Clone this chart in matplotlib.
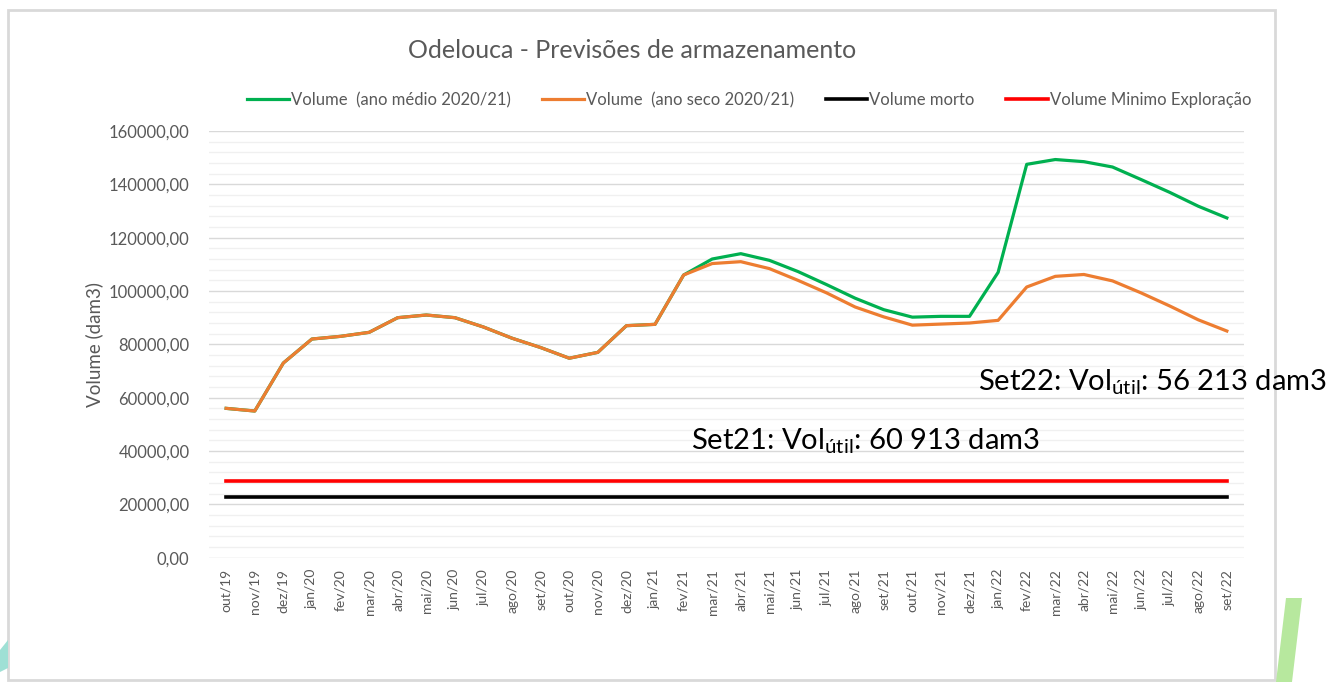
import matplotlib.pyplot as plt
from matplotlib.patches import Rectangle, Polygon
from matplotlib.ticker import MultipleLocator, FuncFormatter

plt.rcParams['font.family'] = ['Lato', 'DejaVu Sans']
plt.rcParams['mathtext.fontset'] = 'custom'
plt.rcParams['mathtext.rm'] = 'Lato'

months = ["out/19", "nov/19", "dez/19", "jan/20", "fev/20", "mar/20", "abr/20", "mai/20",
          "jun/20", "jul/20", "ago/20", "set/20", "out/20", "nov/20", "dez/20", "jan/21",
          "fev/21", "mar/21", "abr/21", "mai/21", "jun/21", "jul/21", "ago/21", "set/21",
          "out/21", "nov/21", "dez/21", "jan/22", "fev/22", "mar/22", "abr/22", "mai/22",
          "jun/22", "jul/22", "ago/22", "set/22"]

# volume, average year
vol_medio = [56000, 55000, 73000, 82000, 83000, 84500, 90000, 91000,
             90000, 86500, 82300, 78800, 74800, 77000, 87000, 87500,
             106000, 112000, 114000, 111500, 107300, 102400, 97300, 93000,
             90200, 90500, 90500, 107000, 147500, 149300, 148500, 146500,
             141800, 137000, 131800, 127400]

# volume, dry year
vol_seco = [56000, 55000, 73000, 82000, 83000, 84500, 90000, 91000,
            90000, 86500, 82300, 78800, 74800, 77000, 87000, 87500,
            106000, 110300, 111000, 108400, 104000, 99300, 94000, 90300,
            87200, 87600, 88000, 89000, 101500, 105500, 106200, 103800,
            99300, 94400, 89200, 85000]

vol_morto = 22800
vol_min_exploracao = 28800

fig = plt.figure(figsize=(13.3, 6.82), dpi=100)
ax = fig.add_axes([209 / 1330, 1 - 557.7 / 682, (1244 - 209) / 1330, (557.7 - 131) / 682])

x = list(range(len(months)))
ax.plot(x, vol_medio, color="#00b050", lw=2.3, label="Volume  (ano médio 2020/21)", zorder=3)
ax.plot(x, vol_seco, color="#ed7d31", lw=2.3, label="Volume  (ano seco 2020/21)", zorder=4)
ax.plot(x, [vol_morto] * len(x), color="black", lw=2.6, label="Volume morto", zorder=3)
ax.plot(x, [vol_min_exploracao] * len(x), color="#ff0000", lw=2.6, label="Volume Minimo Exploração", zorder=3)

ax.set_xlim(-0.6, len(x) - 0.4)
ax.set_ylim(0, 160000)
ax.yaxis.set_major_locator(MultipleLocator(20000))
ax.yaxis.set_minor_locator(MultipleLocator(4000))
ax.yaxis.set_major_formatter(FuncFormatter(lambda v, p: f"{v:.2f}".replace(".", ",")))
ax.grid(axis="y", which="major", color="#d9d9d9", lw=1)
ax.grid(axis="y", which="minor", color="#f0f0f0", lw=1)
ax.set_axisbelow(True)
for s in ax.spines.values():
    s.set_visible(False)
ax.tick_params(axis="both", which="both", length=0, colors="#595959")
ax.tick_params(axis="y", labelsize=12, pad=14)
ax.set_xticks(x)
ax.set_xticklabels(months, rotation=90, fontsize=10)
ax.tick_params(axis="x", pad=8)
ax.set_ylabel("Volume (dam3)", fontsize=13.5, color="#595959", labelpad=4)

fig.text(632 / 1330, 1 - 50 / 682, "Odelouca - Previsões de armazenamento",
         ha="center", va="center", fontsize=18, color="#595959")

leg = ax.legend(loc="center", bbox_to_anchor=(0.522, (100 - 131) / (557.7 - 131) * -1 + 1),
                ncol=4, frameon=False, fontsize=12, handlelength=2.5, handletextpad=0.12,
                columnspacing=1.9, labelcolor="#595959")

fig.text(978 / 1330, 1 - 382 / 682, r"Set22: Vol$_{\mathrm{útil}}$: 56 213 dam3",
         ha="left", va="center", fontsize=21, color="black")
fig.text(691 / 1330, 1 - 441 / 682, r"Set21: Vol$_{\mathrm{útil}}$: 60 913 dam3",
         ha="left", va="center", fontsize=21, color="black")

# frame and slide decorations
fig.patches.append(Rectangle((8 / 1330, 2 / 682), 1267 / 1330, 670 / 682, transform=fig.transFigure,
                             fill=False, edgecolor="#d9d9d9", lw=2, zorder=0))
fig.patches.append(Polygon([(1286 / 1330, 1 - 598 / 682), (1302 / 1330, 1 - 598 / 682),
                            (1292 / 1330, 0), (1276 / 1330, 0)],
                           closed=True, transform=fig.transFigure, color="#b7e89e", lw=0, zorder=0))
fig.patches.append(Polygon([(0, 1 - 650 / 682), (8 / 1330, 1 - 640 / 682),
                            (8 / 1330, 1 - 668 / 682), (0, 1 - 672 / 682)],
                           closed=True, transform=fig.transFigure, color="#9fe0d5", lw=0, zorder=0))

fig.savefig("out.png", dpi=100)
